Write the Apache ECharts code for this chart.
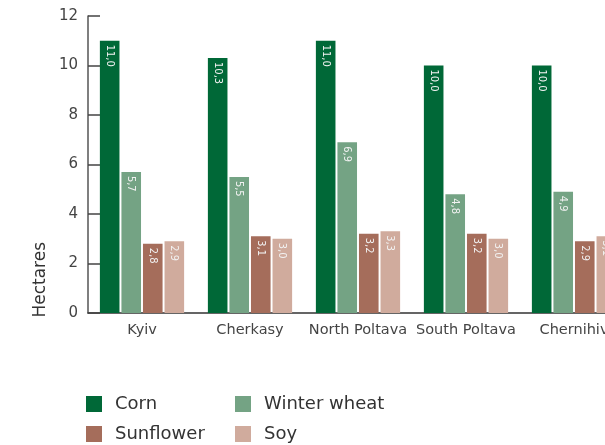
<!DOCTYPE html>
<html>
<head>
<meta charset="utf-8">
<script src="https://cdn.jsdelivr.net/npm/echarts@6/dist/echarts.min.js"></script>
<style>
html,body{margin:0;padding:0;background:#fff;}
#chart{width:605px;height:445px;}
</style>
</head>
<body>
<div id="chart"></div>
<script>
const categories = ['Kyiv', 'Cherkasy', 'North Poltava', 'South Poltava', 'Chernihiv'];
const corn = [11.0, 10.3, 11.0, 10.0, 10.0];
const winterWheat = [5.7, 5.5, 6.9, 4.8, 4.9];
const sunflower = [2.8, 3.1, 3.2, 3.2, 2.9];
const soy = [2.9, 3.0, 3.3, 3.0, 3.1];
const yTicks = [0, 2, 4, 6, 8, 10, 12];
const seriesNames = ['Corn', 'Winter wheat', 'Sunflower', 'Soy'];

const FONT = 'DejaVu Sans';
const colors = ['#006837', '#74a384', '#a56d5b', '#d0ab9d'];

function series(name, data, color) {
  return {
    name: name,
    type: 'bar',
    data: data,
    barGap: '10%',
    barCategoryGap: '22%',
    itemStyle: { color: color },
    label: {
      show: true,
      position: 'insideTop',
      distance: 4,
      rotate: -90,
      align: 'left',
      verticalAlign: 'middle',
      color: '#f2f2f2',
      fontFamily: 'DejaVu Sans Condensed',
      fontSize: 11,
      formatter: p => p.value.toFixed(1).replace('.', ',')
    }
  };
}

function legendItem(name, left, top) {
  return {
    data: [name],
    left: left, top: top,
    itemWidth: 16, itemHeight: 16,
    icon: 'rect',
    padding: 0,
    textStyle: { color: '#333', fontFamily: FONT, fontSize: 18, padding: [0, 0, 0, 8] }
  };
}

const chart = echarts.init(document.getElementById('chart'), null, { renderer: 'canvas' });
chart.setOption({
  animation: false,
  color: colors,
  grid: { left: 88, top: 16, width: 540, height: 297, outerBoundsMode: 'none', containLabel: false },
  xAxis: {
    type: 'category',
    data: categories,
    axisLine: { lineStyle: { color: '#333', width: 1.5 } },
    axisTick: { inside: true, length: 8, lineStyle: { color: '#555', width: 1.5 } },
    axisLabel: { interval: 0, color: '#444', fontFamily: FONT, fontSize: 14.5, margin: 10 }
  },
  yAxis: {
    type: 'value',
    min: yTicks[0],
    max: yTicks[yTicks.length - 1],
    interval: 2,
    splitLine: { show: false },
    axisLine: { show: true, lineStyle: { color: '#555', width: 1.5 } },
    axisTick: { show: true, inside: true, length: 12, lineStyle: { color: '#444', width: 1.5 } },
    axisLabel: { color: '#444', fontFamily: FONT, fontSize: 15, margin: 10 }
  },
  legend: [
    legendItem(seriesNames[0], 86, 395),
    legendItem(seriesNames[1], 235, 395),
    legendItem(seriesNames[2], 86, 425),
    legendItem(seriesNames[3], 235, 425)
  ],
  graphic: [{
    type: 'text',
    left: 32, top: 242,
    rotation: Math.PI / 2,
    style: { text: 'Hectares', fill: '#333', fontFamily: FONT, fontSize: 17 }
  }],
  series: [
    series(seriesNames[0], corn, colors[0]),
    series(seriesNames[1], winterWheat, colors[1]),
    series(seriesNames[2], sunflower, colors[2]),
    series(seriesNames[3], soy, colors[3])
  ]
});
</script>
</body>
</html>
